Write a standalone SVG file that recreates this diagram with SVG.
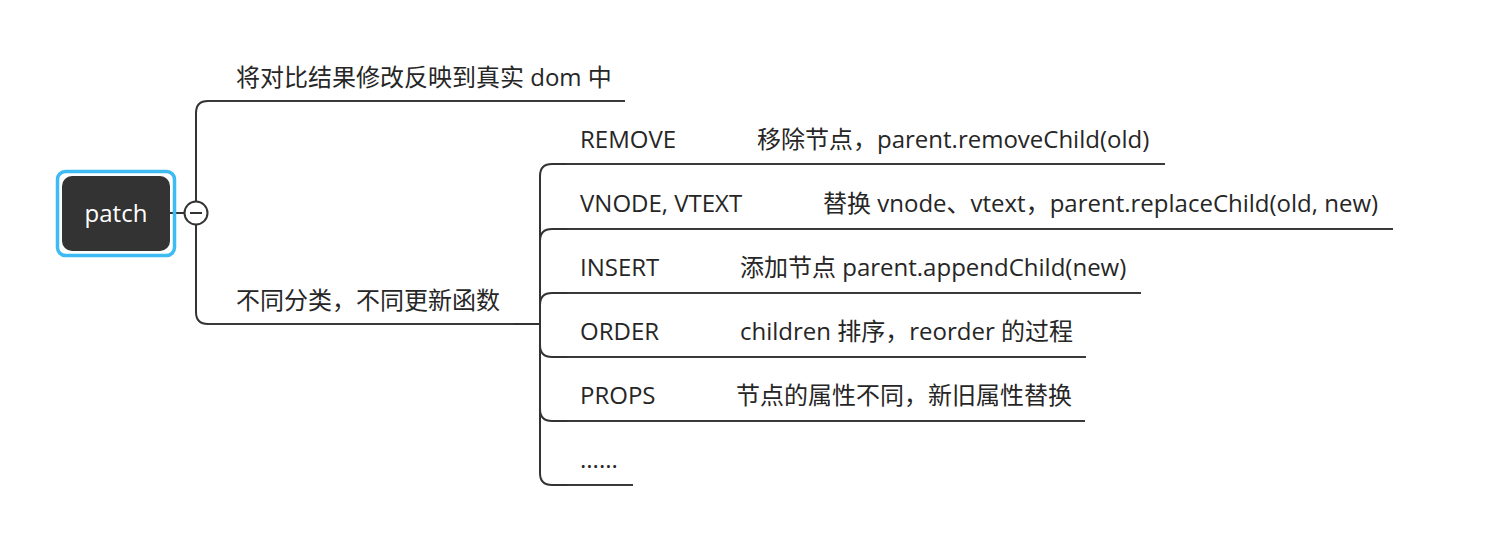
<svg xmlns="http://www.w3.org/2000/svg" width="1496" height="554" viewBox="0 0 1496 554">
<style>
text{font-family:"Open Sans","Noto Sans CJK SC",sans-serif;font-size:24px;fill:#262626}
.ln{fill:none;stroke:#333;stroke-width:2;stroke-linecap:butt}
.ul{fill:none;stroke:#3a3a3a;stroke-width:2}
</style>
<rect width="1496" height="554" fill="#fff"/>
<g id="connectors">
<path class="ln" d="M170,213 H186"/>
<path class="ln" d="M208,101 Q196,101 196,113 V312 Q196,324 208,324"/>
<path class="ln" d="M513,324 H540"/>
<path class="ln" d="M540,176 V473"/>
<path class="ln" d="M540,176 Q540,164 552,164 H567"/>
<path class="ln" d="M540,241 Q540,229 552,229 H567"/>
<path class="ln" d="M540,305 Q540,293 552,293 H567"/>
<path class="ln" d="M540,345 Q540,357 552,357 H567"/>
<path class="ln" d="M540,409 Q540,421 552,421 H567"/>
<path class="ln" d="M540,473 Q540,485 552,485 H567"/>
</g>
<g id="root">
<rect x="57.5" y="171.5" width="117" height="84" rx="8" fill="none" stroke="#3dbbf2" stroke-width="3.5"/>
<rect x="62" y="176" width="108" height="75" rx="10" fill="#333"/>
<text x="116" y="222" text-anchor="middle" style="fill:#fff">patch</text>
</g>
<g id="collapse">
<circle cx="196" cy="213" r="11.5" fill="#fff" stroke="#333" stroke-width="2"/>
<path d="M190,213 H202" stroke="#333" stroke-width="2"/>
</g>
<g id="n-top">
<path class="ul" d="M208,101 H625"/>
<text x="236" y="86">将对比结果修改反映到真实 dom 中</text>
</g>
<g id="n-category">
<path class="ul" d="M208,324 H513"/>
<text x="236" y="309">不同分类，不同更新函数</text>
</g>
<g id="n-remove">
<path class="ul" d="M567,164 H743"/>
<text x="580" y="148">REMOVE</text>
</g>
<g id="n-remove-desc">
<path class="ul" d="M743,164 H1165"/>
<text x="757" y="148">移除节点，parent.removeChild(old)</text>
</g>
<g id="n-vnode">
<path class="ul" d="M567,229 H805"/>
<text x="580" y="212">VNODE, VTEXT</text>
</g>
<g id="n-vnode-desc">
<path class="ul" d="M805,229 H1393"/>
<text x="823" y="212">替换 vnode、vtext，parent.replaceChild(old, new)</text>
</g>
<g id="n-insert">
<path class="ul" d="M567,293 H727"/>
<text x="580" y="276">INSERT</text>
</g>
<g id="n-insert-desc">
<path class="ul" d="M727,293 H1141"/>
<text x="740" y="276">添加节点 parent.appendChild(new)</text>
</g>
<g id="n-order">
<path class="ul" d="M567,357 H727"/>
<text x="580" y="340">ORDER</text>
</g>
<g id="n-order-desc">
<path class="ul" d="M727,357 H1086"/>
<text x="740" y="340">children 排序，reorder 的过程</text>
</g>
<g id="n-props">
<path class="ul" d="M567,421 H722"/>
<text x="580" y="404">PROPS</text>
</g>
<g id="n-props-desc">
<path class="ul" d="M722,421 H1085"/>
<text x="736" y="404">节点的属性不同，新旧属性替换</text>
</g>
<g id="n-more">
<path class="ul" d="M567,485 H633"/>
<text x="580" y="468">......</text>
</g>
</svg>
